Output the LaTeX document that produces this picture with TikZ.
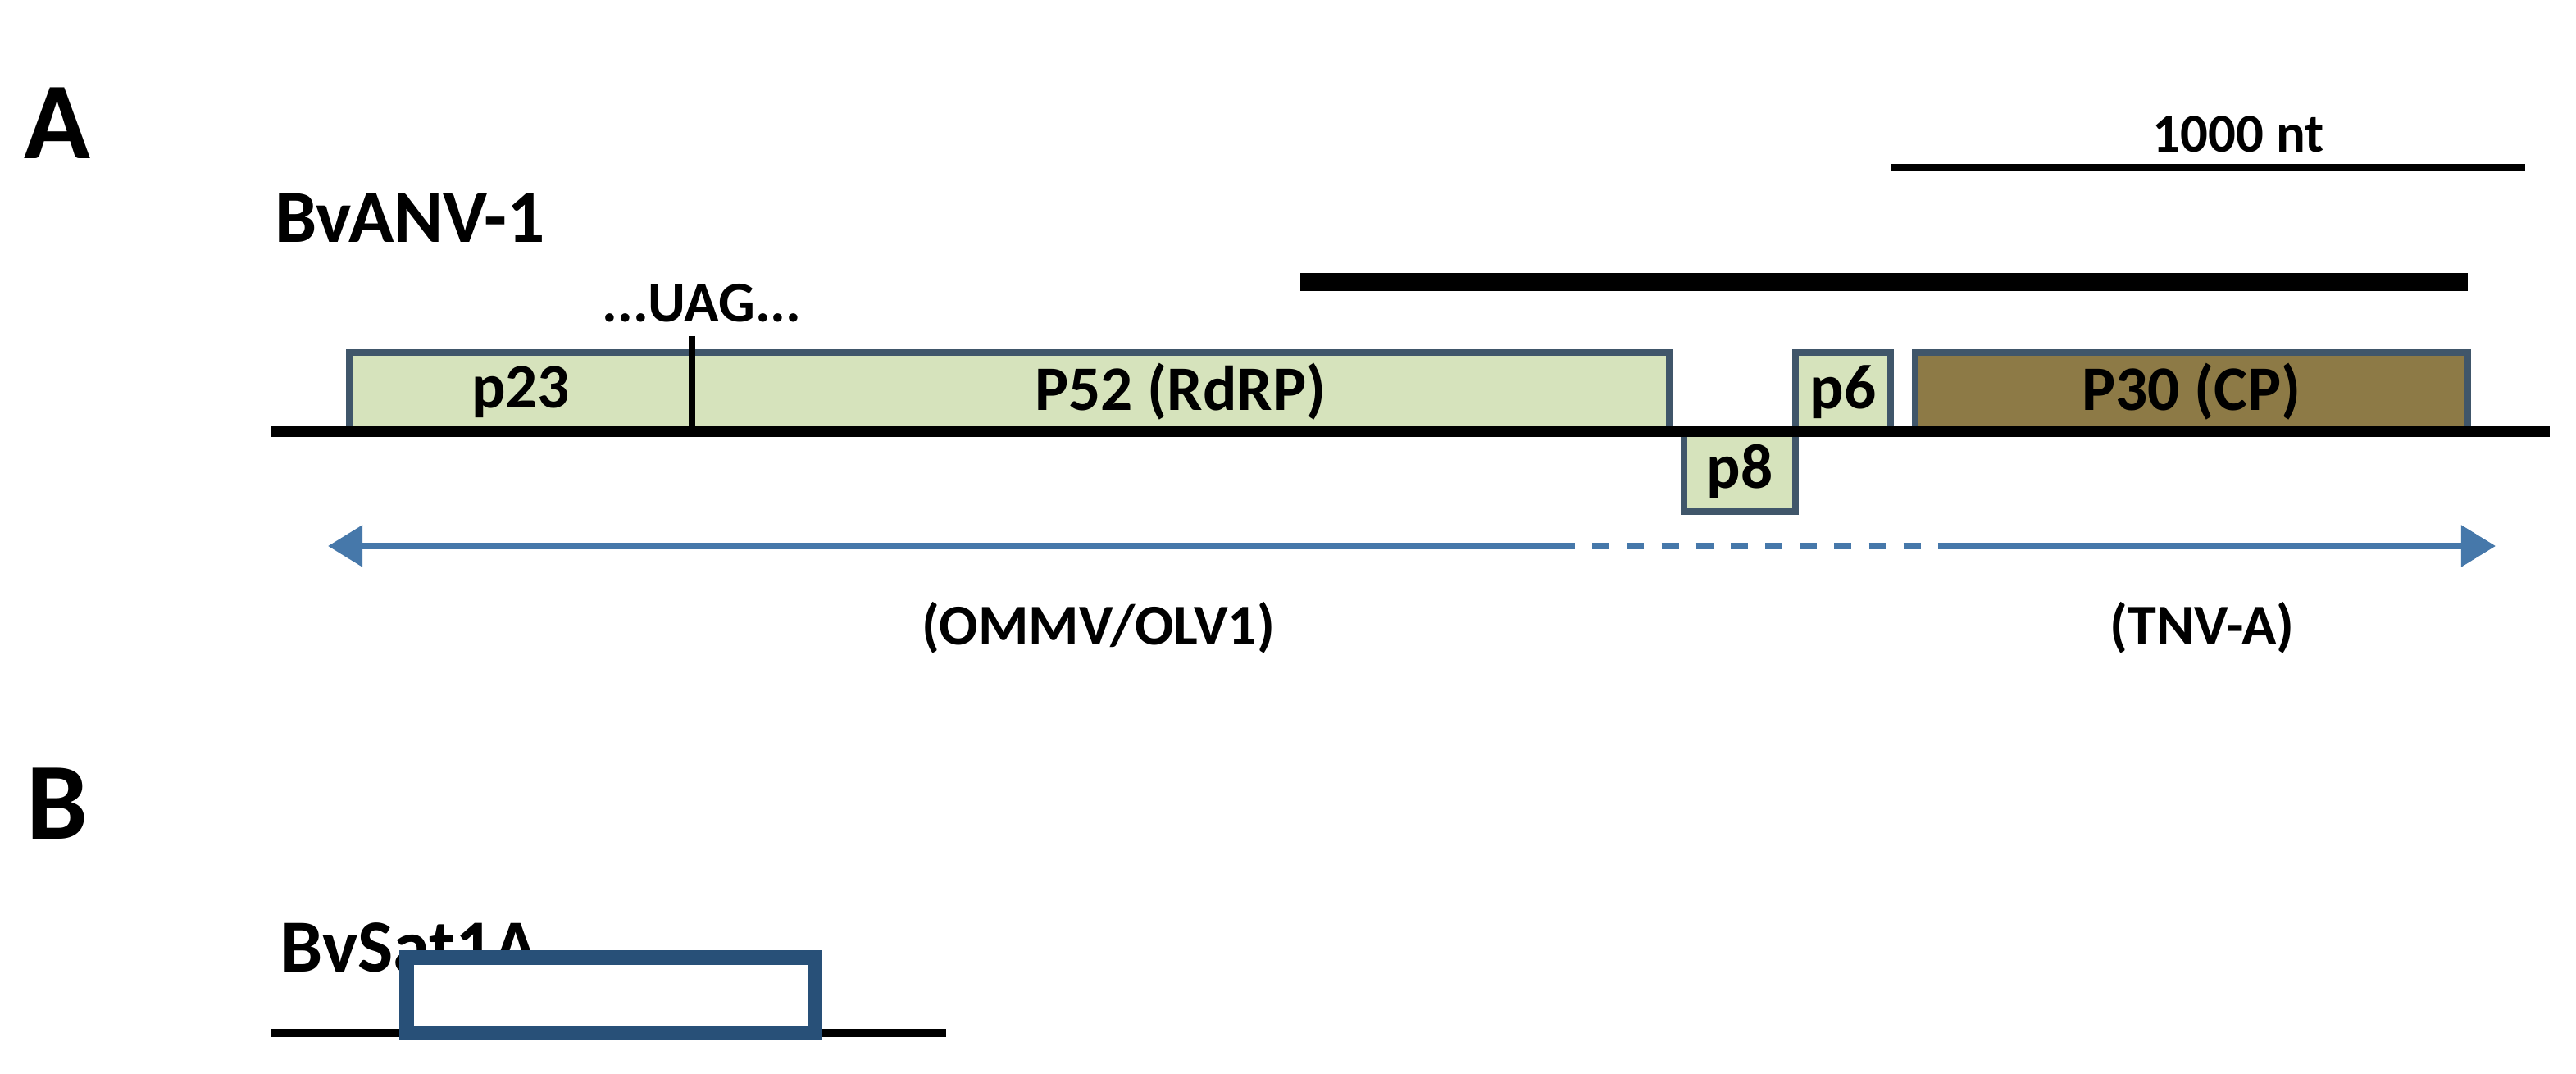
\documentclass[tikz,border=0pt]{standalone}
\usepackage{fontspec}
\setmainfont{Carlito}
\usetikzlibrary{arrows.meta}
\definecolor{lg}{RGB}{214,227,188}
\definecolor{ol}{RGB}{141,122,70}
\definecolor{bx}{RGB}{64,86,106}
\definecolor{ab}{RGB}{70,120,170}
\definecolor{sb}{RGB}{40,80,120}
\begin{document}
\begin{tikzpicture}[x=0.02cm,y=-0.02cm,
 orf/.style={draw=bx,line width=2.4pt,fill=lg},
 lbl/.style={font=\bfseries\fontsize{22}{24}\selectfont},
 big/.style={font=\bfseries\fontsize{38}{40}\selectfont},
 ttl/.style={font=\bfseries\fontsize{26}{28}\selectfont},
 sm/.style={font=\bfseries\fontsize{20}{22}\selectfont}]
\useasboundingbox (0,0) rectangle (1571,655);
% scale bar
\draw[line width=2pt] (1153,102) -- (1540,102);
\node[font=\bfseries\fontsize{19}{20}\selectfont] (nt) at (1365,82) {1000 nt};
\node[big] (A) at (35,75) {A};
\node[ttl] (t1) at (250,133) {BvANV-1};
\draw[line width=6pt] (793,172) -- (1505,172);
% ORFs
\draw[orf] (213,215) rectangle (422,263);
\draw[orf] (422,215) rectangle (1018,263);
\draw[orf] (1027,263) rectangle (1095,312);
\draw[orf] (1095,215) rectangle (1153,263);
\draw[orf,fill=ol] (1168,215) rectangle (1505,263);
\node[lbl] (p23) at (317.5,239) {p23};
\node[lbl] (p52) at (720,239) {P52 (RdRP)};
\node[lbl] (p8) at (1061,287.5) {p8};
\node[lbl] (p6) at (1124,239) {p6};
\node[lbl] (p30) at (1336.5,239) {P30 (CP)};
\draw[line width=2pt] (422,205) -- (422,263);
\node[sm] (uag) at (428,185) {...UAG...};
\draw[line width=4pt] (165,263) -- (1555,263);
% arrow
\coordinate (a1) at (200,333);
\coordinate (d1) at (950,333);
\coordinate (d2) at (1190,333);
\coordinate (a2) at (1522,333);
\draw[ab,line width=2.4pt,{Triangle[width=14pt,length=12pt]}-] (a1) -- (d1);
\draw[ab,line width=2.4pt,dash pattern=on 6pt off 6pt] (d1) -- (d2);
\draw[ab,line width=2.4pt,-{Triangle[width=14pt,length=12pt]}] (d2) -- (a2);
\node[sm] (om) at (670,383) {(OMMV/OLV1)};
\node[sm] (tn) at (1343,383) {(TNV-A)};
% B
\node[big] (B) at (35,490) {B};
\node[ttl] (t2) at (250,578) {BvSat1A};
\draw[line width=3pt] (165,630) -- (577,630);
\draw[draw=sb,line width=5pt,fill=white] (248,584) rectangle (497,630);
\end{tikzpicture}
\end{document}
